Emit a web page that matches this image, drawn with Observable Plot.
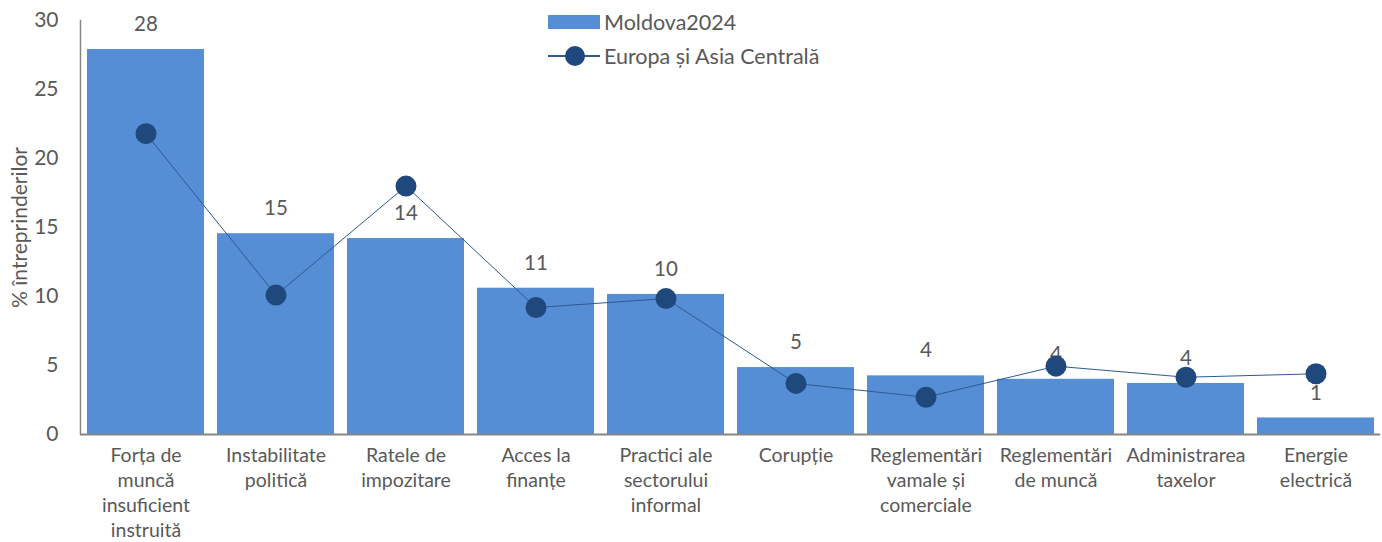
<!DOCTYPE html>
<html><head><meta charset="utf-8">
<script src="https://cdn.jsdelivr.net/npm/d3@7"></script>
<script src="https://cdn.jsdelivr.net/npm/@observablehq/plot@0.6"></script>
<style>
body{margin:0;background:#fff;font-family:Lato,"Open Sans",sans-serif;}
#wrap{position:relative;width:1382px;height:542px;}
#legend{position:absolute;left:548px;top:5px;font-size:21.5px;color:#595959;}
.row{display:flex;align-items:center;height:34px;}
.sw{width:52px;height:14px;background:#558ed5;margin-right:4px;}
.ln{position:relative;width:52px;height:1.5px;background:#2e5a8f;margin-right:4px;}
.ln::after{content:"";position:absolute;left:17px;top:-9.5px;width:20px;height:20px;border-radius:50%;background:#1f497d;}
</style></head>
<body><div id="wrap"><div id="chart"></div>
<div id="legend">
<div class="row"><div class="sw"></div><span>Moldova2024</span></div>
<div class="row"><div class="ln"></div><span>Europa și Asia Centrală</span></div>
</div></div>
<script>
const categories = ["Forța de\nmuncă\ninsuficient\ninstruită","Instabilitate\npolitică","Ratele de\nimpozitare","Acces la\nfinanțe","Practici ale\nsectorului\ninformal","Corupție","Reglementări\nvamale și\ncomerciale","Reglementări\nde muncă","Administrarea\ntaxelor","Energie\nelectrică"];
const moldova = [27.9, 14.55, 14.2, 10.6, 10.15, 4.85, 4.25, 4.0, 3.7, 1.2];
const moldovaLabels = [28, 15, 14, 11, 10, 5, 4, 4, 4, 1];
const eca = [21.8, 10.1, 18.0, 9.2, 9.85, 3.7, 2.7, 4.95, 4.15, 4.4];
const yTicks = [0, 5, 10, 15, 20, 25, 30];

const data = categories.map((c, i) => ({cat: c, m: moldova[i], lab: moldovaLabels[i], e: eca[i]}));

const chart = Plot.plot({
  width: 1382, height: 542,
  marginLeft: 80, marginRight: 2, marginTop: 20, marginBottom: 108,
  style: {fontFamily: "Lato, 'Open Sans', sans-serif", color: "#595959", background: "#fff"},
  x: {domain: categories, paddingInner: 0.1, paddingOuter: 0.05},
  y: {domain: [0, 30]},
  marks: [
    Plot.barY(data, {x: "cat", y: "m", fill: "#558ed5"}),
    Plot.frame({anchor: "left", stroke: "#868686", strokeWidth: 1.5}),
    Plot.ruleY([0], {stroke: "#868686", strokeWidth: 2}),
    Plot.axisY({ticks: yTicks, tickSize: 0, tickPadding: 22, fontSize: 21, fill: "#595959",
      label: "% întreprinderilor", labelAnchor: "center", labelArrow: "none", labelOffset: 68}),
    Plot.axisX({tickSize: 0, tickPadding: 10, fontSize: 19.5, lineHeight: 1.28, fill: "#595959", label: null, textAnchor: "middle"}),
    Plot.text(data, {x: "cat", y: "m", text: "lab", dy: -25, fontSize: 20.5, fill: "#595959"}),
    Plot.line(data, {x: "cat", y: "e", stroke: "#2e5a8f", strokeWidth: 1}),
    Plot.dot(data, {x: "cat", y: "e", r: 10.5, fill: "#1f497d"})
  ]
});
document.getElementById("chart").appendChild(chart);
</script></body></html>
